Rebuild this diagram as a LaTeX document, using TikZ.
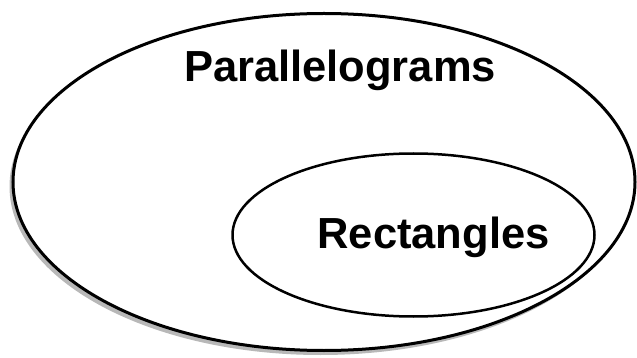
\documentclass[tikz,border=0pt]{standalone}
\usepackage{fontspec}
\setmainfont{Liberation Sans}
\usetikzlibrary{shapes.geometric,shadows}

\begin{document}
\begin{tikzpicture}[
    x=1pt, y=-1pt,
    setring/.style={draw=black, ellipse, inner sep=0pt, fill=white},
    setlabel/.style={font=\fontsize{43.5}{48}\selectfont\bfseries, anchor=base, inner sep=0pt}
  ]
    \useasboundingbox (0,0) rectangle (637,358);
    \node[setring, line width=3pt, minimum width=622pt, minimum height=337pt,
      drop shadow={shadow xshift=-3.5pt, shadow yshift=-4.5pt, fill=black!28, opacity=1}]
      (para) at (324,182) {};
    \node[setring, line width=2.5pt, minimum width=362pt, minimum height=163pt] (rect) at (413.5,235) {};
    \node[setlabel] (paratext) at (340,82) {Parallelograms};
    \node[setlabel] (recttext) at (433.5,248) {Rectangles};
  \end{tikzpicture}
\end{document}
